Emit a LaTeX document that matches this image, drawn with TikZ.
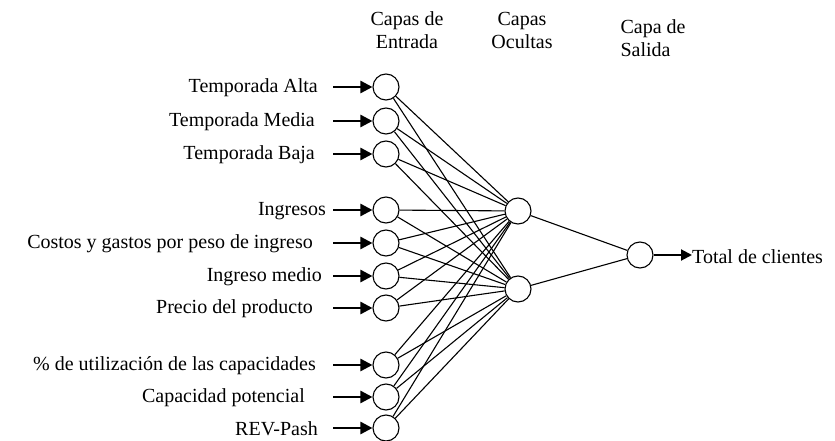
\documentclass[tikz,border=0pt]{standalone}
\usepackage{fontspec}
\setmainfont{Liberation Serif}
\usetikzlibrary{arrows.meta}
\begin{document}
\begin{tikzpicture}[x=1pt,y=-1pt,font=\fontsize{20}{23}\selectfont]
\useasboundingbox (0,0) rectangle (835,441);
\tikzset{neuron/.style={draw,circle,inner sep=0pt,minimum size=26pt,line width=1.1pt},
  link/.style={line width=1.1pt},
  feed/.style={line width=2.6pt,-{Triangle[length=12pt,width=12pt]}}}

% capas
\node[align=center] (capin) at (407,30) {Capas de\\Entrada};
\node[align=center] (caphid) at (522,30) {Capas\\Ocultas};
\node[align=left,anchor=west] (capout) at (617,38) {Capa de\\Salida};

% entradas
\foreach \i/\y/\t/\xe in {1/87/Temporada Alta/318,2/121/Temporada Media/315,3/154/Temporada Baja/315,
  4/210/Ingresos/326,5/243/Costos y gastos por peso de ingreso/313,6/276/Ingreso medio/322,
  7/308/Precio del producto/313,8/365/\% de utilización de las capacidades/316,
  9/397/Capacidad potencial/305,10/428/REV-Pash/318}
{
\node[neuron] (in\i) at (386,\y) {};
\node[anchor=east,inner sep=0pt] (lab\i) at (\xe,\y+1) {\t};
\coordinate (s\i) at (333,\y);
\draw[feed] (s\i) -- (in\i);
}

\node[neuron] (h1) at (518,211) {};
\node[neuron] (h2) at (518,289) {};
\node[neuron] (out) at (640,255) {};

\foreach \i in {1,...,10}
{
\draw[link] (in\i) -- (h1);
\draw[link] (in\i) -- (h2);
}
\draw[link] (h1) -- (out);
\draw[link] (h2) -- (out);

\node[anchor=west,inner sep=0pt] (total) at (692,257) {Total de clientes};
\draw[line width=2pt,-{Triangle[length=11pt,width=11pt]}] (out) -- (out -| total.west);
\end{tikzpicture}
\end{document}
